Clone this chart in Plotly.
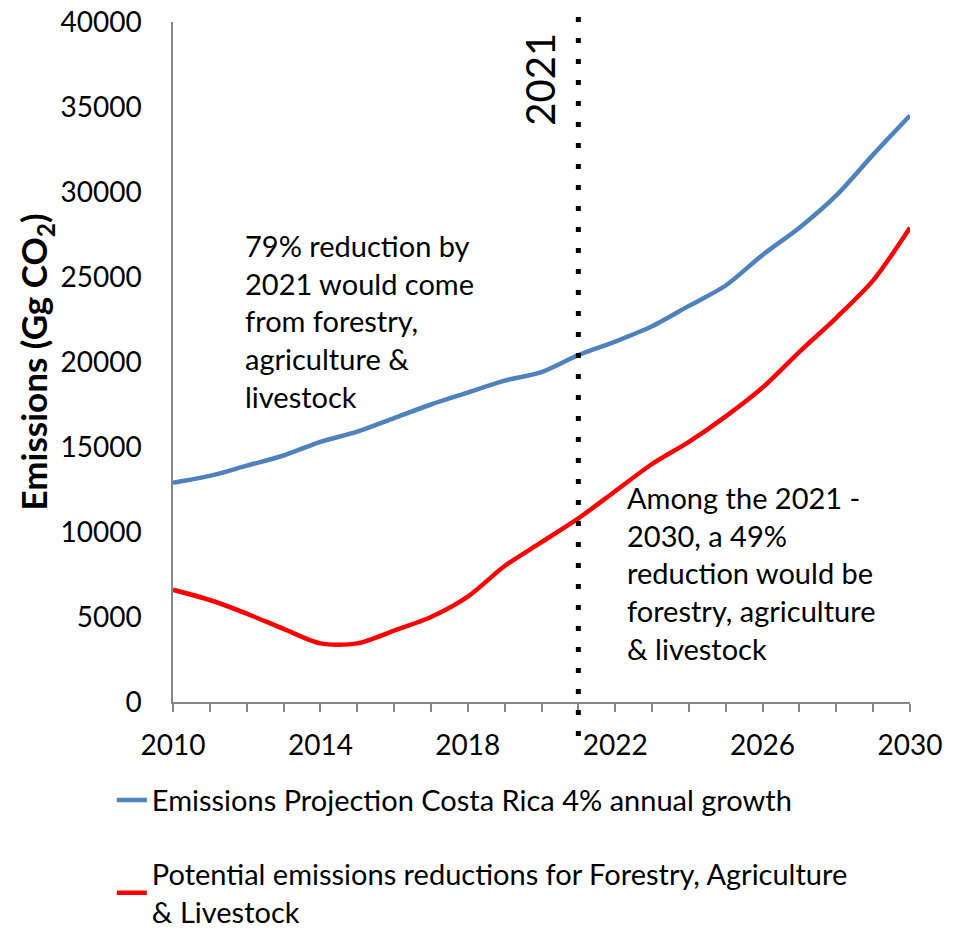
import plotly.graph_objects as go

years = list(range(2010, 2031))
projection = [12900, 13300, 13900, 14500, 15300, 15900, 16700, 17500, 18200, 18900,
              19400, 20400, 21200, 22100, 23300, 24500, 26300, 27900, 29800, 32200, 34500]
reduction = [6600, 6000, 5200, 4300, 3450, 3450, 4200, 5000, 6200, 8000,
             9400, 10800, 12400, 14000, 15300, 16800, 18500, 20600, 22600, 24800, 27900]

series_names = ["Emissions Projection Costa Rica 4% annual growth",
                "Potential emissions reductions for Forestry, Agriculture<br>& Livestock"]
marker_year = 2021
note_left = "79% reduction by<br>2021 would come<br>from forestry,<br>agriculture &<br>livestock"
note_right = "Among the 2021 -<br>2030, a 49%<br>reduction would be<br>forestry, agriculture<br>& livestock"

FONT = "Lato, Carlito, Calibri, sans-serif"

fig = go.Figure()
fig.add_trace(go.Scatter(x=years, y=projection, mode="lines", name=series_names[0],
                         line=dict(color="#4F81BD", width=4.5, shape="spline", smoothing=0.8),
                         legendgroup="a"))
fig.add_trace(go.Scatter(x=years, y=reduction, mode="lines", name=series_names[1],
                         line=dict(color="#FF0000", width=4.5, shape="spline", smoothing=0.8),
                         legendgroup="b"))

fig.add_shape(type="line", x0=marker_year, x1=marker_year, xref="x", yref="paper",
              y0=-0.05, y1=1.018, line=dict(color="black", width=5, dash="5px,16px"))

fig.add_annotation(x=marker_year, y=0.987, xref="x", yref="paper", text=str(marker_year),
                   textangle=-90, showarrow=False, xshift=-38, yanchor="top",
                   font=dict(size=40, color="black", family=FONT))
fig.add_annotation(x=2011.9, y=0.70, xref="x", yref="paper", text=note_left, align="left",
                   xanchor="left", yanchor="top", showarrow=False,
                   font=dict(size=29, color="black", family=FONT))
fig.add_annotation(x=2022.27, y=0.33, xref="x", yref="paper", text=note_right, align="left",
                   xanchor="left", yanchor="top", showarrow=False,
                   font=dict(size=29, color="black", family=FONT))

fig.update_layout(
    width=957, height=932,
    margin=dict(l=173, r=47, t=22, b=230, autoexpand=False),
    plot_bgcolor="white", paper_bgcolor="white",
    font=dict(family=FONT, size=28, color="black"),
    showlegend=True,
    legend=dict(orientation="v", x=-0.083, xanchor="left", y=-0.107, yanchor="top",
                font=dict(size=29, family=FONT), traceorder="grouped", tracegroupgap=33,
                bgcolor="rgba(0,0,0,0)"),
    xaxis=dict(range=[2010, 2030], tickmode="linear", tick0=2010, dtick=4, automargin=False,
               showgrid=False, zeroline=False, showline=True, linecolor="#868686", linewidth=1.5,
               ticks="outside", ticklen=8, tickcolor="#868686", tickwidth=1.5,
               minor=dict(dtick=1, ticks="outside", ticklen=8, tickcolor="#868686", tickwidth=1.5),
               tickfont=dict(size=28), ticklabelstandoff=10, ticklabeloverflow="allow"),
    yaxis=dict(range=[0, 40000], tickmode="linear", tick0=0, dtick=5000, tickformat="d",
               automargin=False, ticklabeloverflow="allow",
               showgrid=False, zeroline=False, showline=True, linecolor="#868686", linewidth=1.5,
               ticks="", tickfont=dict(size=28), ticklabelstandoff=24,
               title=dict(text="<b>Emissions (Gg CO<sub>2</sub>)</b>", font=dict(size=35), standoff=2)),
)

fig.write_html("out.html", config={"displayModeBar": False},
               post_script="document.body.style.margin='0';")
